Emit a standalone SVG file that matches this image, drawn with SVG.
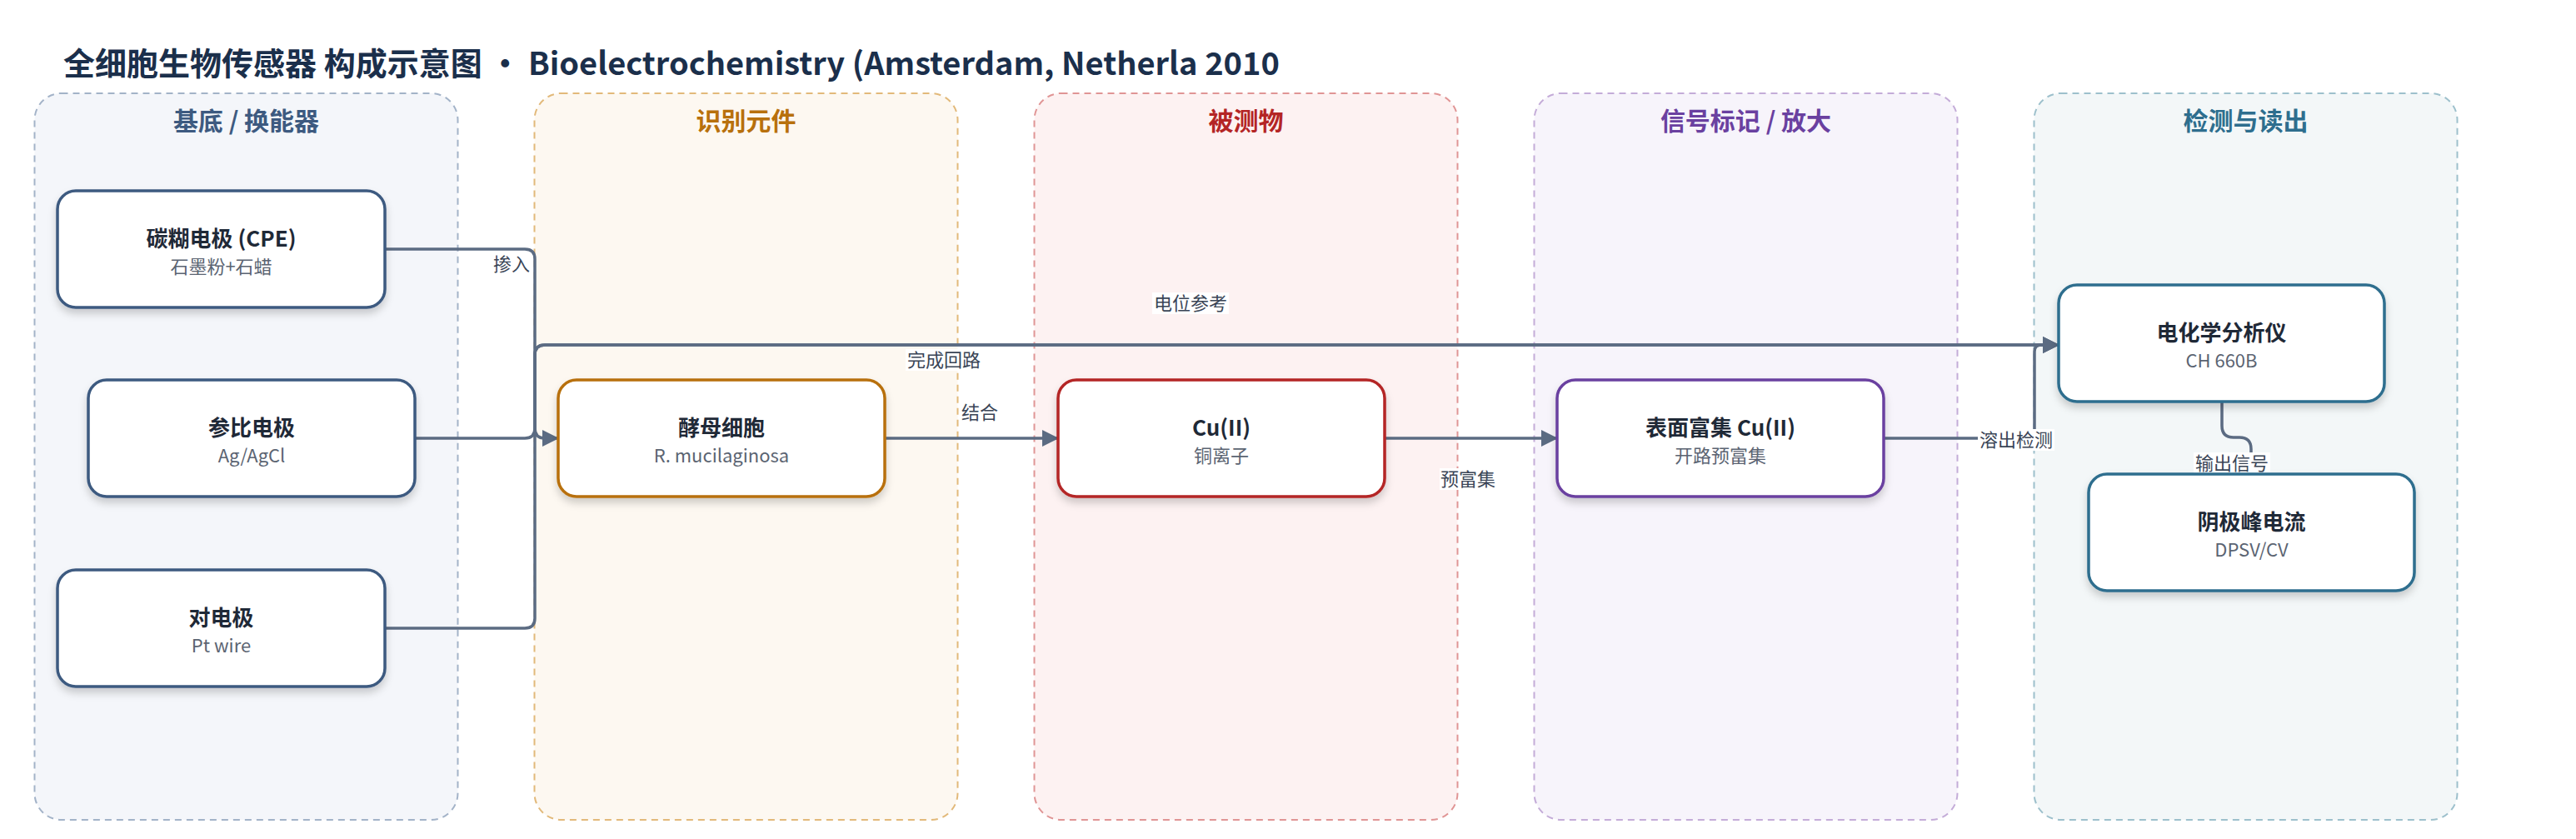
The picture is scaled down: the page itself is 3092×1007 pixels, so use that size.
<svg xmlns="http://www.w3.org/2000/svg" width="3092" height="1007" viewBox="0 0 3092 1007">
<style>
text{font-family:"Noto Sans CJK SC","Noto Sans",sans-serif;}
.title{font-size:38px;font-weight:700;fill:#1b2f4b;}
.lane{stroke-width:2;stroke-dasharray:8 6;}
.lt{font-size:30px;font-weight:700;text-anchor:middle;}
.node rect{fill:#fff;stroke-width:3.5;filter:url(#sh);}
.nt{font-size:26px;font-weight:700;fill:#1f2937;text-anchor:middle;}
.ns{font-size:22px;fill:#5b6472;text-anchor:middle;}
.edge{fill:none;stroke:#5b6b82;stroke-width:3.5;}
.lb{font-size:22px;fill:#3a4556;text-anchor:middle;}
.lbg{fill:#fff;}
</style>
<defs>
<filter id="sh" x="-10%" y="-10%" width="120%" height="140%">
<feDropShadow dx="0" dy="6" stdDeviation="5" flood-color="#000" flood-opacity="0.18"/>
</filter>
<marker id="ar" markerUnits="userSpaceOnUse" viewBox="0 0 20 20" markerWidth="20" markerHeight="20" refX="19" refY="10" orient="auto">
<path d="M0,0 L20,10 L0,20 z" fill="#5b6b82"/>
</marker>
</defs>
<rect width="3092" height="1007" fill="#fff"/>
<text class="title" x="76" y="90">全细胞生物传感器 构成示意图 · Bioelectrochemistry (Amsterdam, Netherla 2010</text>

<g id="lane-substrate">
<rect class="lane" x="41.5" y="112" width="508" height="872" rx="32" fill="#f4f6fa" stroke="#a3b3c8"/>
<text class="lt" x="295.5" y="156" fill="#3d5a80">基底 / 换能器</text>
</g>
<g id="lane-recognition">
<rect class="lane" x="641.5" y="112" width="508" height="872" rx="32" fill="#fdf8f1" stroke="#e2b97a"/>
<text class="lt" x="895.5" y="156" fill="#b8700c">识别元件</text>
</g>
<g id="lane-analyte">
<rect class="lane" x="1241.5" y="112" width="508" height="872" rx="32" fill="#fdf2f2" stroke="#e09595"/>
<text class="lt" x="1495.5" y="156" fill="#b42525">被测物</text>
</g>
<g id="lane-signal">
<rect class="lane" x="1841.5" y="112" width="508" height="872" rx="32" fill="#f7f4fb" stroke="#c4acd8"/>
<text class="lt" x="2095.5" y="156" fill="#6a40a0">信号标记 / 放大</text>
</g>
<g id="lane-readout">
<rect class="lane" x="2441.5" y="112" width="508" height="872" rx="32" fill="#f3f7f8" stroke="#9dc0cc"/>
<text class="lt" x="2695.5" y="156" fill="#2e6e8e">检测与读出</text>
</g>

<g id="connectors">
<path class="edge" d="M462,299 H630 Q642,299 642,311 V514 Q642,526 654,526 H670" marker-end="url(#ar)"/>
<path class="edge" d="M498,526 H630 Q642,526 642,514 V426 Q642,414 654,414 H2471" marker-end="url(#ar)"/>
<path class="edge" d="M463,754 H630 Q642,754 642,742 V426 Q642,414 654,414 H2471" marker-end="url(#ar)"/>
<path class="edge" d="M1062,526 H1270" marker-end="url(#ar)"/>
<path class="edge" d="M1662,526 H1869" marker-end="url(#ar)"/>
<path class="edge" d="M2261,526 H2432 Q2442,526 2442,516 V422 Q2442,414 2450,414 H2471" marker-end="url(#ar)"/>
<path class="edge" d="M2667,482 V511 Q2667,525 2681,525 H2688 Q2702,525 2702,539 V569" marker-end="url(#ar)"/>
<rect class="lbg" x="591" y="304" width="46" height="26"/>
<text class="lb" x="614" y="325">掺入</text>
<rect class="lbg" x="1383" y="351" width="92" height="26"/>
<text class="lb" x="1429" y="372">电位参考</text>
<rect class="lbg" x="1087" y="419" width="92" height="26"/>
<text class="lb" x="1133" y="440">完成回路</text>
<rect class="lbg" x="1153" y="482" width="46" height="26"/>
<text class="lb" x="1176" y="503">结合</text>
<rect class="lbg" x="1728" y="562" width="69" height="26"/>
<text class="lb" x="1762" y="583">预富集</text>
<rect class="lbg" x="2374" y="515" width="92" height="26"/>
<text class="lb" x="2420" y="536">溶出检测</text>
<rect class="lbg" x="2633" y="543" width="92" height="25"/>
<text class="lb" x="2679" y="564">输出信号</text>
</g>

<g id="node-cpe" class="node">
<rect x="69" y="229" width="393" height="140" rx="22" stroke="#3d5a80"/>
<text class="nt" x="265.5" y="296">碳糊电极 (CPE)</text>
<text class="ns" x="265.5" y="328">石墨粉+石蜡</text>
</g>
<g id="node-ref" class="node">
<rect x="106" y="456" width="392" height="140" rx="22" stroke="#3d5a80"/>
<text class="nt" x="302" y="523">参比电极</text>
<text class="ns" x="302" y="555">Ag/AgCl</text>
</g>
<g id="node-counter" class="node">
<rect x="69" y="684" width="393" height="140" rx="22" stroke="#3d5a80"/>
<text class="nt" x="265.5" y="751">对电极</text>
<text class="ns" x="265.5" y="783">Pt wire</text>
</g>
<g id="node-yeast" class="node">
<rect x="670" y="456" width="392" height="140" rx="22" stroke="#b8700c"/>
<text class="nt" x="866" y="523">酵母细胞</text>
<text class="ns" x="866" y="555">R. mucilaginosa</text>
</g>
<g id="node-cu" class="node">
<rect x="1270" y="456" width="392" height="140" rx="22" stroke="#b42525"/>
<text class="nt" x="1466" y="523">Cu(II)</text>
<text class="ns" x="1466" y="555">铜离子</text>
</g>
<g id="node-enrich" class="node">
<rect x="1869" y="456" width="392" height="140" rx="22" stroke="#6a40a0"/>
<text class="nt" x="2065" y="523">表面富集 Cu(II)</text>
<text class="ns" x="2065" y="555">开路预富集</text>
</g>
<g id="node-analyzer" class="node">
<rect x="2471" y="342" width="391" height="140" rx="22" stroke="#2e6e8e"/>
<text class="nt" x="2666.5" y="409">电化学分析仪</text>
<text class="ns" x="2666.5" y="441">CH 660B</text>
</g>
<g id="node-peak" class="node">
<rect x="2507" y="569" width="391" height="140" rx="22" stroke="#2e6e8e"/>
<text class="nt" x="2702.5" y="636">阴极峰电流</text>
<text class="ns" x="2702.5" y="668">DPSV/CV</text>
</g>
</svg>
